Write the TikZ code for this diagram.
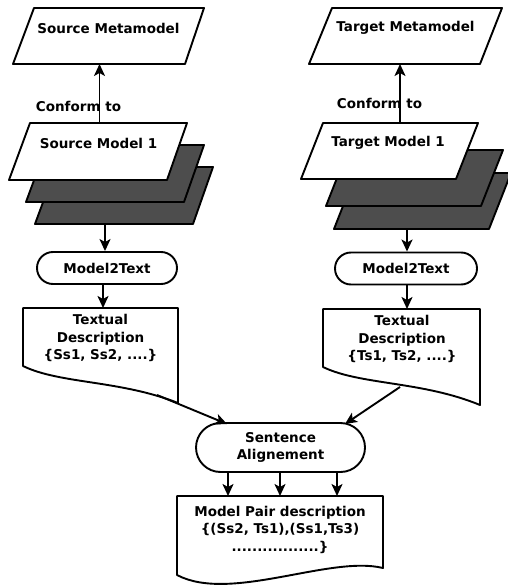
\documentclass[tikz,border=0pt]{standalone}
\usepackage{fontspec}
\setmainfont{DejaVu Sans}
\usetikzlibrary{arrows.meta,shapes.misc}
\definecolor{layergray}{HTML}{4D4D4D}
\begin{document}
\begin{tikzpicture}[x=1pt,y=-1pt,
  line width=1.9pt, line join=round,
  every node/.style={font=\fontsize{13.5}{17.5}\selectfont\bfseries, inner sep=0pt, align=center},
  conn/.style={-{Stealth[length=12pt,width=11pt,inset=3pt]}},
  whitebox/.style={draw=black, fill=white},
  darklayer/.style={draw=black, fill=layergray},
  pill/.style={rounded rectangle, draw=black, fill=white, inner sep=0pt}
]
\useasboundingbox (0,0) rectangle (507,585);

% ---------------- Source side ----------------
\draw[whitebox] (34,8) -- (204,8) -- (185,64) -- (13,64) -- cycle;
\node (smm) at (108.5,28) {Source Metamodel};

\draw[darklayer] (56,167) -- (213,167) -- (193,224) -- (35,224) -- cycle;
\draw[darklayer] (47,145) -- (204,145) -- (184,202) -- (26,202) -- cycle;
\draw[whitebox] (30,123) -- (187,123) -- (167,180) -- (9,180) -- cycle;
\node (sm1) at (98.5,143) {Source Model 1};

\coordinate (sm1-top) at (99.5,123);
\coordinate (smm-bot) at (99.5,64);
\draw[conn] (sm1-top) -- (smm-bot);
\node (cfL) at (78.5,106) {Conform to};

\node[pill, minimum width=140pt, minimum height=32pt] (m2tL) at (107,268) {Model2Text};
\coordinate (sl-bot) at (105,224);
\draw[conn] (sl-bot) -- (sl-bot |- m2tL.north);

\draw[whitebox] (23,308) -- (178,308) -- (178,403) .. controls (120,380) and (60,384) .. (23,366) -- cycle;
\coordinate (tdL-top) at (103,308);
\draw[conn] (tdL-top |- m2tL.south) -- (tdL-top);
\node (tdL) at (100.5,338) {Textual\\Description\\\{Ss1, Ss2, ....\}};

% ---------------- Target side ----------------
\draw[whitebox] (332,8) -- (502,8) -- (480,64) -- (309,64) -- cycle;
\node (tmm) at (405.5,28) {Target Metamodel};

\draw[darklayer] (356,173) -- (511,173) -- (489,229) -- (334,229) -- cycle;
\draw[darklayer] (348,150) -- (503,150) -- (481,206) -- (326,206) -- cycle;
\draw[whitebox] (323,123) -- (478,123) -- (456,179) -- (301,179) -- cycle;
\node (tm1) at (388,143) {Target Model 1};

\coordinate (tm1-top) at (400,123);
\coordinate (tmm-bot) at (400,64);
\draw[conn] (tm1-top) -- (tmm-bot);
\node (cfR) at (379.5,103) {Conform to};

\node[pill, minimum width=142pt, minimum height=32pt] (m2tR) at (406,268.5) {Model2Text};
\coordinate (tl-bot) at (407,229);
\draw[conn] (tl-bot) -- (tl-bot |- m2tR.north);

\draw[whitebox] (323,309) -- (480,309) -- (480,405) .. controls (422,381) and (360,385) .. (323,367) -- cycle;
\coordinate (tdR-top) at (407,309);
\draw[conn] (tdR-top |- m2tR.south) -- (tdR-top);
\node (tdR) at (402,339) {Textual\\Description\\\{Ts1, Ts2, ....\}};

% ---------------- Alignment ----------------
\node[pill, minimum width=169pt, minimum height=49pt] (sa) at (280.5,447.5) {Sentence\\Alignement};
\coordinate (tdL-out) at (157,395);
\coordinate (sa-inL) at (227,424);
\draw[conn] (tdL-out) -- (sa-inL);
\coordinate (tdR-out) at (400,387);
\coordinate (sa-inR) at (345,424);
\draw[conn] (tdR-out) -- (sa-inR);

\draw[whitebox] (177,496) -- (383,496) -- (383,568) .. controls (330,555) and (230,603) .. (177,575) -- cycle;
\node (mp) at (280,529.5) {Model Pair description\\\{(Ss2, Ts1),(Ss1,Ts3)\\.................\}};

\coordinate (mp-top1) at (228,496);
\coordinate (mp-top2) at (280,496);
\coordinate (mp-top3) at (337,496);
\draw[conn] (mp-top1 |- sa.south) -- (mp-top1);
\draw[conn] (mp-top2 |- sa.south) -- (mp-top2);
\draw[conn] (mp-top3 |- sa.south) -- (mp-top3);
\end{tikzpicture}
\end{document}
